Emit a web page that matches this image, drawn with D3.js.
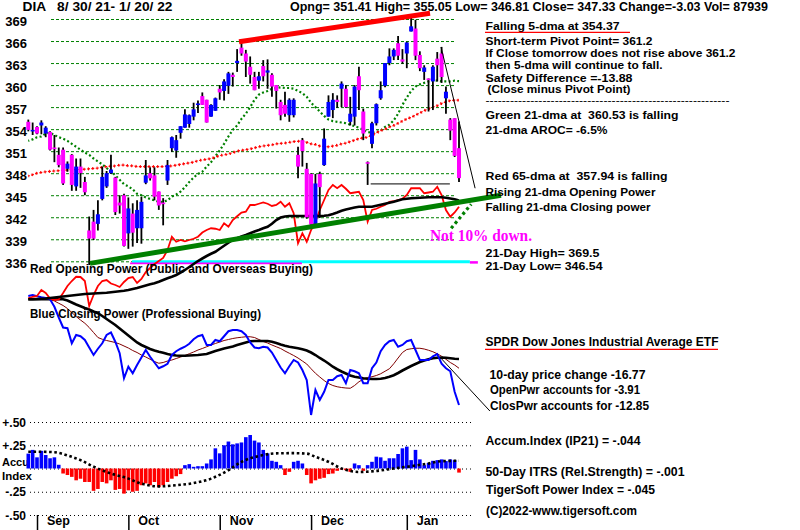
<!DOCTYPE html>
<html><head><meta charset="utf-8">
<script src="https://cdn.jsdelivr.net/npm/d3@7"></script>
<style>
html,body{margin:0;padding:0;background:#fff;}
svg{display:block;}
text{font-family:"Liberation Sans",Arial,sans-serif;font-weight:bold;fill:#000;white-space:pre;}
</style></head><body>
<svg id="c" width="800" height="530"></svg>
<script>
// ---------- DATA ----------
const monthLabels = ["Sep","Oct","Nov","Dec","Jan"];
const monthStartDay = [2,23,44,65,87];
const priceTicks = [369,366,363,360,357,354,351,348,345,342,339,336];
const accTicks = [0.5,0.25,0,-0.25,-0.5];
const accTickLabels = ["+.50","+.25","","-.25","-.50"];

const open = [355.0,353.7,354.3,354.5,353.4,353.6,351.5,350.5,351.2,348.6,
350.5,346.2,348.9,346.8,340.2,341.4,341.1,344.5,346.2,348.0,
347.4,344.0,345.0,339.8,342.5,340.5,340.5,346.7,348.0,347.7,
345.5,344.0,347.0,351.4,351.1,353.5,354.2,354.7,355.7,357.3,
358.5,358.0,355.7,356.5,359.5,359.2,359.9,361.4,363.0,365.1,
364.3,362.5,361.1,360.6,362.6,361.7,361.4,360.0,357.7,357.3,
355.9,355.9,350.5,352.5,348.6,347.9,341.1,347.9,349.1,355.7,
356.6,358.0,359.5,359.5,355.0,355.7,361.2,356.4,349.5,352.0,
354.8,358.2,359.9,363.0,363.9,365.7,363.5,364.3,367.3,367.7,
364.1,361.8,360.9,360.5,363.6,364.3,358.2,355.3,355.5,351.41];
const high = [355.3,354.9,354.4,355.2,354.4,353.7,353.2,351.5,351.5,349.6,
350.6,350.0,350.0,347.5,342.1,343.0,344.3,348.9,348.3,350.5,
347.5,345.0,345.2,344.7,343.9,344.3,344.8,349.8,348.8,348.8,
345.5,344.6,349.8,353.0,353.2,354.4,356.7,356.0,357.6,357.9,
359.0,358.0,357.4,358.3,360.0,360.8,361.8,361.7,364.9,365.8,
364.8,363.9,361.8,361.8,363.4,363.5,361.6,360.0,358.0,359.1,
358.2,358.2,351.6,352.8,349.4,348.0,347.9,348.2,354.1,358.6,
358.9,358.6,360.5,360.0,358.4,360.0,362.5,356.8,349.6,355.0,
357.5,360.5,363.0,365.0,365.0,366.7,364.9,365.9,369.5,368.9,
364.6,362.7,360.9,362.7,364.5,365.2,359.8,355.5,355.5,355.05];
const low = [353.7,353.2,353.3,353.3,352.9,351.1,349.5,348.8,346.4,348.2,
345.6,345.6,346.0,345.0,335.5,338.9,340.2,344.3,346.0,347.9,
342.3,342.5,338.0,337.7,338.0,338.5,338.4,346.5,347.0,344.3,
343.0,340.9,346.4,350.9,350.1,352.7,354.2,354.2,355.2,356.2,
357.3,354.9,355.7,356.5,358.0,357.9,358.8,359.8,361.8,364.0,
361.1,360.2,359.3,359.5,360.5,359.5,358.4,356.8,355.2,355.7,
355.0,355.6,347.3,348.9,341.8,340.9,340.9,341.9,349.0,355.7,
355.5,356.9,357.0,356.9,354.5,354.5,356.6,352.5,346.4,351.4,
354.5,358.0,359.7,362.7,363.4,363.4,362.9,362.3,367.3,363.4,
361.9,360.7,356.4,356.6,360.5,360.3,356.1,352.5,350.2,346.81];
const close = [353.9,353.9,353.4,354.9,354.2,351.2,351.3,349.1,346.6,349.3,
346.4,348.9,348.0,345.4,339.1,339.1,342.4,347.5,348.0,348.5,
342.7,343.6,338.1,343.2,339.9,343.0,344.1,347.7,347.3,344.8,
343.6,343.8,349.1,352.9,352.5,354.4,356.0,355.9,356.7,357.5,
357.3,354.9,357.3,358.2,359.0,360.5,361.6,361.1,363.3,364.3,
363.2,361.4,359.3,361.2,361.2,362.0,359.8,359.2,355.9,356.1,
358.0,358.0,348.9,351.0,342.0,341.0,346.6,346.1,352.7,357.7,
358.0,357.7,360.2,357.0,356.1,359.8,359.3,353.4,349.3,354.8,
357.4,359.3,363.0,363.9,364.8,364.0,363.2,365.8,368.0,364.0,
362.3,362.4,360.7,362.5,362.7,361.1,359.1,353.8,350.36,347.33];

const ma21 = [352.4,352.6,352.9,353.0,353.4,353.5,353.2,352.9,352.7,352.4,
352.0,351.6,351.2,350.8,350.5,350.0,349.6,349.2,348.7,348.3,
347.7,347.1,346.5,346.2,345.8,345.2,345.0,344.7,344.5,344.3,
344.1,344.1,344.3,344.8,345.1,345.5,346.1,346.8,347.4,347.9,
348.2,348.9,349.5,350.3,351.1,352.0,353.0,353.9,354.5,355.4,
356.1,357.0,358.0,358.7,359.0,359.2,359.5,359.6,359.7,359.6,
359.6,359.5,359.2,358.9,358.4,357.6,357.0,356.4,355.8,355.3,
355.1,355.0,354.9,354.8,354.6,354.4,354.2,353.9,353.6,353.5,
353.6,353.8,354.3,354.6,355.2,356.1,357.3,358.3,359.2,359.8,
360.1,360.3,360.5,360.7,360.6,360.5,360.5,360.5,360.6,360.53];
const ma65 = [347.6,347.8,348.0,348.1,348.2,348.25,348.3,348.35,348.4,348.45,
348.5,348.5,348.5,348.55,348.6,348.65,348.7,348.8,348.9,348.95,
349.0,349.1,349.1,349.0,349.0,348.9,348.9,348.9,348.9,348.9,
348.9,348.9,348.95,349.0,349.1,349.2,349.3,349.4,349.5,349.7,
349.8,349.9,350.0,350.2,350.4,350.5,350.6,350.8,351.0,351.1,
351.2,351.3,351.45,351.6,351.7,351.8,351.85,352.0,352.05,352.1,
352.2,352.3,352.35,352.4,352.2,352.0,351.9,351.7,351.65,351.6,
351.7,351.8,352.0,352.1,352.3,352.5,352.7,352.8,352.9,353.2,
353.5,353.8,354.0,354.3,354.5,354.8,355.1,355.4,355.6,355.9,
356.2,356.5,356.8,357.0,357.2,357.5,357.7,357.9,357.95,357.94];

const openPower = [48.7,49.3,49.6,52.0,50.8,48.6,48.0,48.2,50.8,53.6,
55.6,57.3,57.2,55.6,45.6,50.0,53.6,55.6,56.0,54.6,
54.0,53.2,55.2,56.8,57.2,54.8,56.4,59.2,60.8,62.4,
63.6,64.8,68.0,73.3,71.3,72.0,71.5,72.0,72.5,73.3,
75.0,76.0,76.7,76.5,76.0,78.7,77.3,80.0,81.5,83.0,
83.3,86.0,86.0,86.5,87.0,86.5,85.6,86.0,87.3,85.3,
86.7,82.7,70.7,74.7,71.3,76.0,79.3,84.0,88.0,92.0,
94.0,92.7,94.0,92.5,90.7,91.0,91.3,88.0,79.3,84.0,
84.5,85.3,86.0,87.3,87.5,88.0,88.5,90.0,92.7,92.7,
92.7,90.7,91.0,91.3,93.3,90.0,84.0,81.3,83.0,85.3];
const openPowerMA = [48.3,48.3,48.4,48.5,48.6,48.8,49.0,49.2,49.4,49.6,
49.8,50.0,50.2,50.4,50.5,50.6,50.7,50.8,50.9,51.1,
51.3,51.5,51.7,52.0,52.4,52.8,53.3,53.8,54.3,54.7,
55.3,56.0,56.7,57.3,58.0,59.0,60.0,61.2,62.4,63.6,
64.6,65.6,66.5,67.3,68.5,69.7,70.9,72.0,72.7,73.4,
74.0,74.7,75.4,76.0,76.7,77.3,78.5,80.0,81.0,81.4,
81.6,81.6,81.6,81.6,81.6,81.6,81.6,81.6,81.7,81.9,
82.4,83.0,83.7,84.2,84.6,85.0,85.3,85.3,85.3,85.3,
85.7,86.1,86.5,86.9,87.3,87.8,88.3,88.5,88.7,88.8,
88.9,89.0,89.1,89.1,89.1,89.1,88.9,88.6,88.3,87.8];
const closePower = [49.6,50.0,49.5,49.1,48.8,48.3,45.3,41.0,37.0,36.7,
30.7,34.0,33.5,32.0,29.0,26.0,28.5,30.7,34.0,35.0,
31.3,26.7,16.7,21.3,18.7,22.0,25.0,28.0,25.3,23.0,
20.7,21.5,22.5,26.0,27.5,28.5,29.3,30.5,32.3,33.5,
34.0,30.0,30.0,32.0,31.5,33.5,35.5,36.0,36.0,35.5,
34.0,31.0,29.0,28.7,29.3,29.0,27.0,24.0,21.0,18.7,
21.5,24.0,23.0,20.0,16.0,2.0,12.0,8.0,11.3,16.0,
16.0,17.5,18.0,14.7,20.0,19.5,18.7,14.7,14.7,20.7,
23.0,27.5,30.0,31.5,32.0,29.3,30.0,31.5,32.0,28.0,
24.0,24.0,24.0,25.5,26.4,22.5,20.7,19.5,11.3,6.0];
const closePowerMA = [48.3,48.3,48.3,48.3,48.3,48.3,48.3,48.3,48.3,47.8,
47.0,46.2,45.5,44.8,44.2,43.4,42.7,41.6,40.4,39.2,
38.0,36.6,35.2,33.8,32.4,31.0,30.0,29.2,28.4,27.8,
27.3,26.9,26.4,26.0,25.8,25.7,25.7,25.8,25.9,26.0,
26.2,26.4,27.0,27.6,28.1,28.6,29.0,29.4,30.0,30.5,
31.0,31.5,31.6,31.6,31.6,31.6,31.3,30.8,30.2,29.7,
29.3,29.0,28.7,28.3,27.8,27.0,26.0,24.8,23.8,22.6,
21.3,20.3,19.4,18.6,17.8,17.3,17.0,16.7,16.5,16.4,
16.4,16.5,16.8,17.3,17.9,18.8,19.8,20.7,21.6,22.4,
23.2,23.8,24.3,24.7,24.9,25.0,24.9,24.7,24.5,24.4];
const closePowerShortMA = [48.7,48.6,48.5,48.4,48.3,48.3,47.6,46.7,45.8,44.6,
43.0,41.4,40.0,38.7,37.0,35.0,33.0,32.3,31.8,31.4,
31.0,30.4,29.6,28.8,27.8,27.0,26.0,25.2,24.3,23.4,
22.7,23.0,23.6,24.0,24.6,25.2,25.8,26.5,27.2,28.0,
28.6,29.3,30.0,30.6,31.2,31.8,32.2,32.6,32.9,33.1,
33.3,33.3,33.0,32.2,31.4,30.8,30.0,29.3,28.6,27.6,
26.7,25.8,24.8,23.6,22.4,20.5,18.7,17.2,15.8,14.6,
13.8,13.3,13.0,12.8,12.7,13.8,15.3,16.3,17.0,17.3,
17.8,18.5,19.5,20.5,22.5,24.8,27.0,28.2,28.5,28.7,
28.7,28.4,27.9,27.3,26.5,25.5,24.3,23.0,22.0,20.7];

const accumIndex = [0.16,0.2,0.12,0.19,0.145,0.11,0.12,0.04,-0.054,-0.07,
-0.09,-0.127,-0.11,-0.145,-0.145,-0.24,-0.22,-0.145,-0.16,-0.127,
-0.23,-0.22,-0.27,-0.235,-0.25,-0.24,-0.18,-0.16,-0.18,-0.145,
-0.2,-0.18,-0.145,-0.11,-0.083,-0.06,0.036,0.047,0.018,0.025,
0.025,0.054,0.098,0.217,0.163,0.25,0.29,0.26,0.27,0.28,
0.337,0.36,0.3,0.28,0.2,0.163,0.083,0.072,0.036,-0.07,
-0.036,0.072,0.083,0.054,-0.07,-0.16,-0.127,-0.11,-0.1,-0.06,
-0.054,-0.025,-0.01,-0.018,-0.036,0.054,0.036,-0.025,0.036,0.072,
0.127,0.12,0.083,0.11,0.11,0.156,0.217,0.235,0.09,0.2,
0.098,0.036,0.06,0.083,0.09,0.098,0.08,0.098,0.09,-0.044];
// 50-day ITRS-like dotted line (day, value)
const itrsDays = [0,3,6,9,12,15,19,23,26,30,34,38,42,46,49,53,57,61,64,66,69,72,76,80,84,88,92,95,99];
const itrsVals = [0.18,0.18,0.175,0.14,0.09,0.02,-0.054,-0.109,-0.163,-0.192,-0.18,-0.157,-0.109,-0.018,0.072,0.134,0.163,0.165,0.16,0.126,0.072,0,-0.037,-0.026,0,0.025,0.054,0.079,0.083];

// trend / reference lines in data units [day, value]
const resistanceLine = [[48.44,365.9],[92.34,369.78]];
const supportLine = [[14.18,335.72],[108.66,345.0]];
const projDots = [[97.2,340.5],[101.8,343.77]];
const thinPriceLine = [[94.87,365.18],[102.7,345.95]];
const thinPowerLine = [[94.6,25.2],[106.1,3.6]];
const low21 = 346.54, low21Span = [78.7,96.9];
const cyanSpan = [23.84,101.5], magentaSpan = [23.4,62.9];

// ---------- SCALES ----------
const svg = d3.select("#c");
const x = d3.scaleLinear().domain([0,99]).range([28.3,459]);
const yP = d3.scaleLinear().domain([336,369]).range([261.3,19]);
const yW = d3.scaleLinear().domain([0,100]).range([420,170]);
const yA = d3.scaleLinear().domain([-0.5,0.5]).range([515,422]);
const days = open.map((o,i)=>({i,o,h:high[i],l:low[i],c:close[i]}));

// ---------- PRICE GRID + AXIS ----------
const gP = svg.append("g").attr("transform","translate(51,0)")
  .call(d3.axisLeft(yP).tickValues(priceTicks).tickSize(-405).tickPadding(24).tickFormat(d3.format("d")));
gP.select(".domain").remove();
gP.selectAll(".tick line").attr("stroke","#008000").attr("stroke-dasharray","3,2");
gP.selectAll(".tick text").attr("dy",null).attr("y",6).style("font-size","13px").style("font-family","Liberation Sans, Arial").style("font-weight","bold").attr("fill","#000");

// ---------- ACC GRID + AXIS ----------
const gA = svg.append("g").attr("transform","translate(30,0)")
  .call(d3.axisLeft(yA).tickValues(accTicks).tickSize(-442).tickPadding(4).tickFormat((d,i)=>accTickLabels[i]));
gA.select(".domain").remove();
gA.selectAll(".tick line").attr("stroke","#000").attr("stroke-dasharray","1,3");
gA.selectAll(".tick text").attr("dy",null).attr("y",4).style("font-size","12px").style("font-family","Liberation Sans, Arial").style("font-weight","bold").attr("fill","#000");
svg.append("text").attr("x",2).attr("y",466).style("font-size","11px").text("Accu");
svg.append("text").attr("x",2).attr("y",479.5).style("font-size","11px").attr("textLength",30).attr("lengthAdjust","spacingAndGlyphs").text("Index");

// ---------- MONTH AXIS ----------
const gM = svg.append("g").attr("transform","translate(0,515)")
  .call(d3.axisBottom(x).tickValues(monthStartDay).tickSize(15).tickFormat((d,i)=>monthLabels[i]));
gM.select(".domain").remove();
gM.selectAll(".tick line").attr("stroke","#000").attr("stroke-width",1.5);
gM.selectAll(".tick text").attr("x",9.5).attr("y",10).attr("dy",null).attr("text-anchor","start")
  .style("font-size","12.5px").style("font-family","Liberation Sans, Arial").style("font-weight","bold").attr("fill","#000");

// ---------- 336 level lines ----------
svg.append("line").attr("x1",x(cyanSpan[0])).attr("x2",x(cyanSpan[1])).attr("y1",yP(335.95)).attr("y2",yP(335.95)).attr("stroke","#00FFFF").attr("stroke-width",3);
svg.append("line").attr("x1",x(magentaSpan[0])).attr("x2",x(magentaSpan[1])).attr("y1",yP(335.72)).attr("y2",yP(335.72)).attr("stroke","#FF00FF").attr("stroke-width",1.8);
svg.append("line").attr("x1",x(cyanSpan[1])).attr("x2",x(cyanSpan[1])+8).attr("y1",yP(335.85)).attr("y2",yP(335.85)).attr("stroke","#FF00FF").attr("stroke-width",2.5);

// ---------- MOVING AVERAGES ----------
const lineP = arr => d3.line().x((d,i)=>x(i)).y(d=>yP(d))(arr);
svg.append("path").attr("d",lineP(ma21)).attr("fill","none").attr("stroke","#008000").attr("stroke-width",2.2).attr("stroke-dasharray","2,2.35").attr("stroke-dashoffset",1);
svg.append("path").attr("d",lineP(ma65)).attr("fill","none").attr("stroke","#FF0000").attr("stroke-width",1.2).attr("stroke-dasharray","3,1.35").attr("stroke-dashoffset",1.5);
svg.append("path").attr("d",lineP(ma65)).attr("fill","none").attr("stroke","#FF0000").attr("stroke-width",3).attr("stroke-dasharray","1,3.35").attr("stroke-dashoffset",0.5);

// ---------- POWER LINES ----------
const lineW = arr => d3.line().x((d,i)=>x(i)).y(d=>yW(d))(arr);
svg.append("path").attr("d",lineW(closePowerShortMA)).attr("fill","none").attr("stroke","#800000").attr("stroke-width",1);
svg.append("path").attr("d",lineW(closePowerMA)).attr("fill","none").attr("stroke","#000").attr("stroke-width",2.6);
svg.append("path").attr("d",lineW(closePower)).attr("fill","none").attr("stroke","#0000FF").attr("stroke-width",2);
svg.append("path").attr("d",lineW(openPower)).attr("fill","none").attr("stroke","#FF0000").attr("stroke-width",1.8);
svg.append("path").attr("d",lineW(openPowerMA)).attr("fill","none").attr("stroke","#000").attr("stroke-width",2.6);

// ---------- CANDLES ----------
const gC = svg.append("g");
gC.selectAll("line.w").data(days).join("line").attr("class","w")
  .attr("x1",d=>x(d.i)).attr("x2",d=>x(d.i)).attr("y1",d=>yP(d.h)).attr("y2",d=>yP(d.l))
  .attr("stroke","#000").attr("stroke-width",1.8);
gC.selectAll("rect").data(days).join("rect")
  .attr("x",d=>x(d.i)-2).attr("width",4)
  .attr("y",d=>yP(Math.max(d.o,d.c)))
  .attr("height",d=>Math.max(1.6,Math.abs(yP(d.o)-yP(d.c))))
  .attr("fill",d=>d.c>=d.o?"#0000FF":"#FF00FF");

// 21-day low line
svg.append("line").attr("x1",x(low21Span[0])).attr("x2",x(low21Span[1])).attr("y1",yP(low21)).attr("y2",yP(low21)).attr("stroke","#000").attr("stroke-width",1);

// ---------- TREND LINES ----------
const segP = (pts,color,w,dash) => { const p = svg.append("line")
  .attr("x1",x(pts[0][0])).attr("y1",yP(pts[0][1])).attr("x2",x(pts[1][0])).attr("y2",yP(pts[1][1]))
  .attr("stroke",color).attr("stroke-width",w); if(dash) p.attr("stroke-dasharray",dash); };
segP(supportLine,"#008000",5);
segP(resistanceLine,"#FF0000",5);
segP(projDots,"#008000",3.2,"3,3");
segP(thinPriceLine,"#000",1);
svg.append("line").attr("x1",x(thinPowerLine[0][0])).attr("y1",yW(thinPowerLine[0][1]))
  .attr("x2",x(thinPowerLine[1][0])).attr("y2",yW(thinPowerLine[1][1])).attr("stroke","#000").attr("stroke-width",1);

// ---------- ACCUMULATION BARS ----------
svg.append("g").selectAll("rect").data(accumIndex).join("rect")
  .attr("x",(d,i)=>x(i)-1.8).attr("width",3.6)
  .attr("y",d=>d>=0?yA(d):yA(0)).attr("height",d=>Math.max(1,Math.abs(yA(d)-yA(0))))
  .attr("fill",d=>d>=0?"#0000FF":"#FF0000");
svg.append("path").attr("d",d3.line().curve(d3.curveMonotoneX).x((d,k)=>x(itrsDays[k])).y(d=>yA(d))(itrsVals))
  .attr("fill","none").attr("stroke","#000").attr("stroke-width",2.6).attr("stroke-dasharray","2.6,2.6");

// ---------- TEXT ----------
function T(str,x0,y0,size,w,fill,family){
  const t = svg.append("text").attr("x",x0).attr("y",y0).text(str).style("font-size",size+"px");
  if(w) t.attr("textLength",w).attr("lengthAdjust","spacingAndGlyphs");
  if(fill) t.style("fill",fill);
  if(family) t.style("font-family",family);
  return t;
}
T("DIA   8/ 30/ 21- 1/ 20/ 22",22.5,11,12,150);
T("Opng= 351.41 High= 355.05 Low= 346.81 Close= 347.33 Change=-3.03 Vol= 87939",290,11,12,478);

const rs = 11.5;
T("Falling 5-dma at 354.37",485.5,29.5,rs,134);
svg.append("line").attr("x1",485).attr("x2",630).attr("y1",32.3).attr("y2",32.3).attr("stroke","#FF0000").attr("stroke-width",1.3);
T("Short-term Pivot Point= 361.2",485.5,45,rs,167);
T("If Close tomorrow does not rise above 361.2",485.5,57,rs,250);
T("then 5-dma will continue to fall.",485.5,68.5,rs,177);
T("Safety Difference =-13.88",485.5,81.5,rs,147);
T("(Close minus Pivot Point)",487.5,93,rs,143);
T("-".repeat(60),485.5,104,rs,244).style("font-weight","normal");
T("Green 21-dma at  360.53 is falling",485.5,119,rs,193);
T("21-dma AROC= -6.5%",485.5,133.5,rs,122);
T("Red 65-dma at  357.94 is falling",485.5,180,rs,182);
T("Rising 21-dma Opening Power",485.5,196,rs,170);
T("Falling 21-dma Closing power",485.5,211,rs,165);
T("Not 10% down.",430,240.5,16,102,"#FF00FF","Liberation Serif, Times New Roman, serif");
T("21-Day High= 369.5",485.5,256.5,rs,114);
T("21-Day Low= 346.54",485.5,270,rs,117);

T("Red Opening Power (Public and Overseas Buying)",30,272.5,12,283);
T("Blue Closing Power (Professional Buying)",30,318.3,12,231);

T("SPDR Dow Jones Industrial Average ETF",485.5,346,12,233);
svg.append("line").attr("x1",485).attr("x2",718).attr("y1",349.3).attr("y2",349.3).attr("stroke","#FF0000").attr("stroke-width",1.3);
T("10-day price change -16.77",489.5,379,12,156);
T("OpenPwr accounts for -3.91",490,394,12,150);
T("ClosPwr accounts for -12.85",490,410,12,159);
T("Accum.Index (IP21) = -.044",485.5,445,12,155);
T("50-Day ITRS (Rel.Strength) = -.001",485.5,475.5,12,199);
T("TigerSoft Power Index = -.045",486,494,12,169);
T("(C)2022-www.tigersoft.com",486,515,12,151);
</script>
</body></html>
